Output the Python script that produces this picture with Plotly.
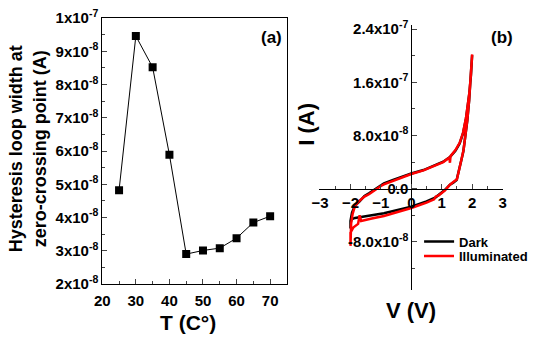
import plotly.graph_objects as go

# ---- (a) hysteresis loop width vs temperature ----
temp_c = [25, 30, 35, 40, 45, 50, 55, 60, 65, 70]
loop_width_a = [4.82e-8, 9.46e-8, 8.52e-8, 5.89e-8, 2.90e-8, 3.01e-8, 3.08e-8, 3.38e-8, 3.85e-8, 4.04e-8]

a_ytick_vals = [2e-8, 3e-8, 4e-8, 5e-8, 6e-8, 7e-8, 8e-8, 9e-8, 1e-7]
a_ytick_text = ["2x10<sup>-8</sup>", "3x10<sup>-8</sup>", "4x10<sup>-8</sup>", "5x10<sup>-8</sup>",
                "6x10<sup>-8</sup>", "7x10<sup>-8</sup>", "8x10<sup>-8</sup>", "9x10<sup>-8</sup>",
                "1x10<sup>-7</sup>"]

# ---- (b) I-V loops, dark and illuminated ----
v_dark = [-2.0, -2.0, -1.95, -1.86, -1.7, -1.54, -1.38, -1.2, -1.0, -0.9, -0.6, -0.3, 0.0, 0.4, 0.8,
          1.05, 1.27, 1.45, 1.59, 1.7, 1.8, 1.86, 1.91, 1.96, 2.0,
          1.96, 1.9, 1.84, 1.77, 1.71, 1.65, 1.57, 1.49, 1.38, 1.27, 1.1, 0.9, 0.8, 0.5, 0.0,
          -0.45, -0.9, -1.3, -1.65, -1.85, -1.97, -2.0]
i_dark = [-6.0e-8, -4.85e-8, -3.6e-8, -2.6e-8, -1.9e-8, -1.1e-8, -0.65e-8, -0.1e-8, 0.5e-8, 0.8e-8,
          1.3e-8, 1.8e-8, 2.28e-8, 2.8e-8, 3.5e-8, 4.05e-8, 4.75e-8, 5.7e-8, 6.8e-8, 8.3e-8,
          1.06e-7, 1.25e-7, 1.44e-7, 1.7e-7, 2.01e-7,
          1.68e-7, 1.32e-7, 1.02e-7, 7.3e-8, 5.6e-8, 4.4e-8, 2.6e-8, 1.3e-8, 0.9e-8, 0.6e-8,
          -0.2e-8, -0.9e-8, -1.3e-8, -1.9e-8, -2.7e-8, -3.2e-8, -3.7e-8, -4.0e-8, -4.2e-8,
          -4.4e-8, -4.6e-8, -5.2e-8]

v_illum = [-2.0, -2.0, -1.98, -1.93, -1.86, -1.75, -1.7, -1.54, -1.38, -1.2, -1.0, -0.9, -0.6, -0.3,
           0.0, 0.4, 0.8, 1.05, 1.25, 1.27, 1.29, 1.45, 1.59, 1.7, 1.8, 1.86, 1.91, 1.96, 2.0,
           1.96, 1.9, 1.84, 1.78, 1.72, 1.66, 1.58, 1.5, 1.38, 1.27, 1.1, 0.9, 0.8, 0.75, 0.5, 0.0,
           -0.45, -0.9, -1.3, -1.65, -1.7, -1.75, -1.9, -2.0, -2.0]
i_illum = [-8.6e-8, -6.4e-8, -5.3e-8, -3.8e-8, -2.7e-8, -2.0e-8, -1.8e-8, -1.2e-8, -0.8e-8, -0.2e-8,
           0.4e-8, 0.65e-8, 1.2e-8, 1.7e-8, 2.2e-8, 2.75e-8, 3.45e-8, 4.0e-8, 4.7e-8, 3.9e-8, 4.9e-8,
           5.8e-8, 6.9e-8, 8.4e-8, 1.07e-7, 1.26e-7, 1.45e-7, 1.72e-7, 2.02e-7,
           1.7e-7, 1.33e-7, 1.03e-7, 7.6e-8, 5.9e-8, 4.6e-8, 2.8e-8, 1.4e-8, 1.0e-8, 0.6e-8,
           -0.3e-8, -1.0e-8, -1.2e-8, -1.6e-8, -2.1e-8, -2.9e-8, -3.5e-8, -4.1e-8, -4.5e-8,
           -4.85e-8, -4.0e-8, -5.3e-8, -5.8e-8, -6.6e-8, -8.2e-8]

b_ytick_vals = [-8e-8, 0.0, 8e-8, 1.6e-7, 2.4e-7]
b_ytick_text = ["-8.0x10<sup>-8</sup>", "0.0", "8.0x10<sup>-8</sup>", "1.6x10<sup>-7</sup>",
                "2.4x10<sup>-7</sup>"]
b_xtick_vals = [-3, -2, -1, 0, 1, 2, 3]

FONT = "Liberation Sans, Arial, sans-serif"
W, H = 533, 344

# panel boxes in pixels (left, right, top, bottom)
a_box = (97, 287, 7.5, 289)
b_box = (320.5, 509.5, 15, 295)

def xdom(box):
    return [box[0] / W, box[1] / W]

def ydom(box):
    return [(H - box[3]) / H, (H - box[2]) / H]

b_xrange = [-3.02, 3.02]
b_yrange = [-1.52e-7, 2.46e-7]
# where the zero lines of panel (b) fall, in paper fractions
b_xzero = b_box[0] / W + (0 - b_xrange[0]) / (b_xrange[1] - b_xrange[0]) * (b_box[1] - b_box[0]) / W
b_yzero = (H - b_box[3]) / H + (0 - b_yrange[0]) / (b_yrange[1] - b_yrange[0]) * (b_box[3] - b_box[2]) / H

fig = go.Figure()

fig.add_trace(go.Scatter(
    x=temp_c, y=loop_width_a, mode="lines+markers",
    line=dict(color="black", width=1),
    marker=dict(symbol="square", size=8, color="black"),
    xaxis="x", yaxis="y", showlegend=False))

fig.add_trace(go.Scatter(
    x=v_dark, y=i_dark, mode="lines", name="Dark",
    line=dict(color="black", width=2.5),
    xaxis="x2", yaxis="y2", legend="legend"))
fig.add_trace(go.Scatter(
    x=v_illum, y=i_illum, mode="lines", name="Illuminated",
    line=dict(color="#ff0000", width=2.5),
    xaxis="x2", yaxis="y2", legend="legend2"))

tickfont_a = dict(family=FONT, size=15, color="black", weight="bold")
tickfont_b = dict(family=FONT, size=15, color="black", weight="bold")
legend_font = dict(family=FONT, size=13, color="black", weight="bold")

fig.update_layout(
    width=W, height=H,
    margin=dict(l=0, r=0, t=0, b=0),
    paper_bgcolor="white", plot_bgcolor="white",
    font=dict(family=FONT, color="black"),
    xaxis=dict(
        domain=xdom(a_box), anchor="y", range=[20, 75],
        tickvals=[20, 30, 40, 50, 60, 70], ticks="inside", ticklen=5,
        minor=dict(ticks="inside", ticklen=3, tickvals=[25, 35, 45, 55, 65]),
        showline=True, linecolor="black", linewidth=1, mirror=True,
        showgrid=False, zeroline=False, tickfont=tickfont_a, ticklabelstandoff=3),
    yaxis=dict(
        domain=ydom(a_box), anchor="x", range=[2e-8, 1e-7],
        tickvals=a_ytick_vals, ticktext=a_ytick_text, ticks="inside", ticklen=5,
        minor=dict(ticks="inside", ticklen=3,
                   tickvals=[2.5e-8, 3.5e-8, 4.5e-8, 5.5e-8, 6.5e-8, 7.5e-8, 8.5e-8, 9.5e-8]),
        showline=True, linecolor="black", linewidth=1, mirror=True,
        showgrid=False, zeroline=False, tickfont=tickfont_a),
    xaxis2=dict(
        domain=xdom(b_box), anchor="free", position=b_yzero, range=b_xrange,
        tickvals=b_xtick_vals, ticks="inside", ticklen=5,
        minor=dict(ticks="inside", ticklen=3, tickvals=[-2.5, -1.5, -0.5, 0.5, 1.5, 2.5]),
        showline=True, linecolor="black", linewidth=1,
        showgrid=False, zeroline=False, tickfont=tickfont_b),
    yaxis2=dict(
        domain=ydom(b_box), anchor="free", position=b_xzero, range=b_yrange,
        tickvals=b_ytick_vals, ticktext=b_ytick_text, ticks="inside", ticklen=5,
        minor=dict(ticks="inside", ticklen=3, tickvals=[-1.2e-7, -4e-8, 4e-8, 1.2e-7, 2.0e-7]),
        showline=True, linecolor="black", linewidth=1,
        showgrid=False, zeroline=False, tickfont=tickfont_b),
    legend=dict(
        x=423 / W, y=(H - 244) / H, xanchor="left", yanchor="middle",
        bgcolor="rgba(0,0,0,0)", itemwidth=30, font=legend_font),
    legend2=dict(
        x=423 / W, y=(H - 259.5) / H, xanchor="left", yanchor="middle",
        bgcolor="rgba(0,0,0,0)", itemwidth=30, font=legend_font),
)

title_font = dict(family=FONT, size=18, color="black", weight="bold")
fig.add_annotation(
    text="Hysteresis loop width at<br>zero-crossing point (A)",
    xref="paper", yref="paper", x=21 / W, y=(H - 146) / H,
    xanchor="center", yanchor="middle", textangle=-90, showarrow=False,
    font=title_font)
fig.add_annotation(
    text="T (C°)", xref="paper", yref="paper",
    x=185 / W, y=(H - 330) / H, xanchor="center", yanchor="middle", showarrow=False,
    borderpad=0, font=dict(family=FONT, size=21, color="black", weight="bold"))
fig.add_annotation(
    text="(a)", xref="paper", yref="paper",
    x=271 / W, y=(H - 28) / H, xanchor="center", yanchor="middle", showarrow=False,
    font=dict(family=FONT, size=17, color="black", weight="bold"))
fig.add_annotation(
    text="I (A)", xref="paper", yref="paper",
    x=307 / W, y=(H - 120) / H, xanchor="center", yanchor="middle", textangle=-90,
    showarrow=False, font=dict(family=FONT, size=22, color="black", weight="bold"))
fig.add_annotation(
    text="V (V)", xref="paper", yref="paper",
    x=415 / W, y=(H - 317) / H, xanchor="center", yanchor="middle", showarrow=False,
    font=dict(family=FONT, size=22, color="black", weight="bold"))
fig.add_annotation(
    text="(b)", xref="paper", yref="paper",
    x=508 / W, y=(H - 28) / H, xanchor="center", yanchor="middle", showarrow=False,
    font=dict(family=FONT, size=17, color="black", weight="bold"))

fig.write_html("out.html")
